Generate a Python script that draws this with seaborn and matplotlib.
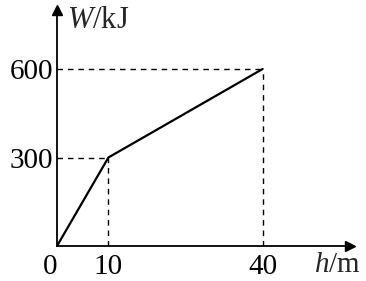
import matplotlib
matplotlib.use("Agg")
import matplotlib.pyplot as plt
import seaborn as sns
import pandas as pd

h_values = [0, 10, 40]
W_values = [0, 300, 600]
x_ticks = [0, 10, 40]
y_ticks = [300, 600]

sns.set_theme(style="white")
plt.rcParams['font.family'] = ['Liberation Serif', 'DejaVu Serif']
plt.rcParams['mathtext.fontset'] = 'custom'
plt.rcParams['mathtext.rm'] = 'Liberation Serif'
plt.rcParams['mathtext.it'] = 'Liberation Serif:italic'

df = pd.DataFrame({"h": h_values, "W": W_values})

fig = plt.figure(figsize=(3.66, 2.81), dpi=100)
ax = fig.add_axes([57/366, 35/281, 293/366, 236/281])

sns.lineplot(data=df, x="h", y="W", ax=ax, color="black", linewidth=1.6)

ax.set_xlim(0, 57)
ax.set_ylim(0, 800)

# dashed guide lines
for hx, wy in zip(h_values[1:], W_values[1:]):
    ax.plot([0, hx], [wy, wy], ls=(0, (4, 3.5)), color="black", lw=1.0)
    ax.plot([hx, hx], [0, wy], ls=(0, (4, 3.5)), color="black", lw=1.0)

for s in ["top", "right"]:
    ax.spines[s].set_visible(False)
for s in ["left", "bottom"]:
    ax.spines[s].set_color("black")
    ax.spines[s].set_linewidth(1.3)

# arrowheads
ax.plot(1, 0, marker=">", color="black", markersize=7, transform=ax.get_yaxis_transform(), clip_on=False)
ax.plot(0, 1, marker="^", color="black", markersize=7, transform=ax.get_xaxis_transform(), clip_on=False)

ax.set_xticks(x_ticks)
ax.set_yticks(y_ticks)
ax.tick_params(axis="both", length=0, labelsize=21, colors="black")
ax.tick_params(axis="x", pad=6)
ax.tick_params(axis="y", pad=3)
ax.get_xticklabels()[0].set_horizontalalignment("right")
ax.set_xlabel("")
ax.set_ylabel("")

ax.text(0.035, 1.015, r"$\it{W}$/kJ", transform=ax.transAxes, fontsize=22, va="top", ha="left")
ax.text(1.035, -0.025, r"$\it{h}$/m", transform=ax.transAxes, fontsize=21, va="top", ha="right")

fig.savefig("out.png", dpi=100)
